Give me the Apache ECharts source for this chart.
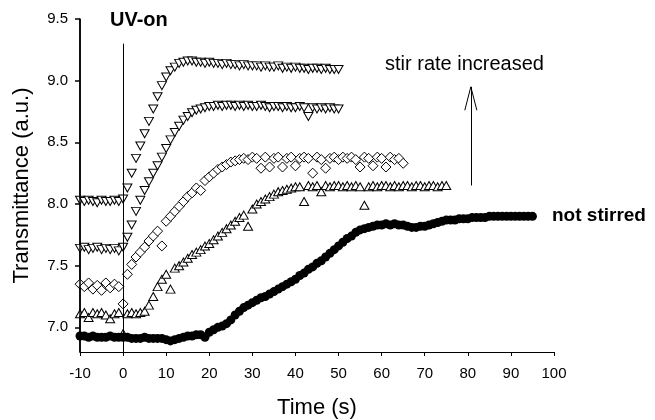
<!DOCTYPE html>
<html>
<head>
<meta charset="utf-8">
<script src="https://cdn.jsdelivr.net/npm/echarts@6/dist/echarts.min.js"></script>
<style>
  html, body { margin: 0; padding: 0; background: #fff; }
  #transmittanceChart { width: 655px; height: 420px; }
</style>
</head>
<body>
<div id="transmittanceChart"></div>
<script>
// 采样时间 (s)
var timeS = [-10, -9, -8, -7, -6, -5, -4, -3, -2, -1,
  0, 1, 2, 3, 4, 5, 6, 7, 8, 9, 10, 11, 12, 13, 14, 15, 16, 17, 18, 19,
  20, 21, 22, 23, 24, 25, 26, 27, 28, 29, 30, 31, 32, 33, 34, 35, 36, 37, 38, 39,
  40, 41, 42, 43, 44, 45, 46, 47, 48, 49, 50, 51, 52, 53, 54, 55, 56, 57, 58, 59,
  60, 61, 62, 63, 64, 65, 66, 67, 68, 69, 70, 71, 72, 73, 74, 75, 76, 77, 78, 79,
  80, 81, 82, 83, 84, 85, 86, 87, 88, 89, 90, 91, 92, 93, 94, 95];

// highest stir rate (inverted triangles)
var stirTop = [8.03, 8.02, 8.03, 8.02, 8.01, 8.03, 8.02, 8.02, 8.03, 8.02,
  8.04, 8.13, 8.25, 8.37, 8.47, 8.57, 8.67, 8.77, 8.87, 8.96,
  9.03, 9.08, 9.11, 9.14, 9.15, 9.16, 9.16, 9.15, 9.15, 9.14,
  9.15, 9.14, 9.14, 9.13, 9.14, 9.13, 9.13, 9.12, 9.13, 9.12,
  9.12, 9.12, 9.11, 9.12, 9.11, 9.11, 9.12, 9.10, 9.11, 9.10,
  9.11, 9.10, 9.10, 9.09, 9.10, 9.10, 9.09, 9.10, 9.09, 9.09, 9.09];

// second stir rate (inverted triangles)
var stirHigh = [7.64, 7.65, 7.63, 7.64, 7.65, 7.63, 7.64, 7.63, 7.64, 7.62,
  7.65, 7.73, 7.83, 7.94, 8.03, 8.11, 8.18, 8.25, 8.31, 8.38,
  8.45, 8.52, 8.58, 8.63, 8.68, 8.71, 8.74, 8.76, 8.77, 8.78,
  8.79, 8.79, 8.80, 8.79, 8.80, 8.80, 8.79, 8.80, 8.79, 8.80,
  8.79, 8.79, 8.80, 8.79, 8.78, 8.79, 8.79, 8.78, 8.79, 8.78,
  8.78, 8.79, 8.78, 8.71, 8.78, 8.77, 8.78, 8.77, 8.78, 8.77, 8.77];

// diamonds
var stirMid = [7.35, 7.33, 7.36, 7.31, 7.34, 7.30, 7.36, 7.32, 7.35, 7.33,
  7.19, 7.43, 7.51, 7.57, 7.61, 7.65, 7.70, 7.74, 7.78, 7.66,
  7.86, 7.90, 7.94, 7.98, 8.02, 8.06, 8.09, 8.13, 8.11, 8.19,
  8.22, 8.25, 8.28, 8.30, 8.32, 8.34, 8.35, 8.36, 8.37, 8.36,
  8.38, 8.37, 8.29, 8.38, 8.30, 8.37, 8.38, 8.30, 8.37, 8.38,
  8.31, 8.37, 8.38, 8.37, 8.25, 8.38, 8.36, 8.29, 8.37, 8.38,
  8.36, 8.38, 8.37, 8.38, 8.36, 8.30, 8.38, 8.37, 8.31, 8.38,
  8.37, 8.30, 8.38, 8.36, 8.37, 8.33];

// triangles
var stirLow = [7.11, 7.12, 7.08, 7.12, 7.11, 7.12, 7.10, 7.07, 7.11, 7.12,
  6.95, 7.11, 7.12, 7.11, 7.12, 7.13, 7.18, 7.25, 7.33, 7.39,
  7.43, 7.31, 7.48, 7.50, 7.53, 7.56, 7.59, 7.61, 7.63, 7.66,
  7.68, 7.71, 7.74, 7.77, 7.80, 7.83, 7.86, 7.89, 7.91, 7.82,
  7.96, 8.00, 8.02, 8.04, 8.06, 8.08, 8.10, 8.11, 8.12, 8.13,
  8.14, 8.14, 8.02, 8.15, 8.14, 8.15, 8.10, 8.15, 8.14, 8.15,
  8.15, 8.14, 8.15, 8.14, 8.15, 8.14, 7.99, 8.14, 8.15, 8.14,
  8.15, 8.15, 8.14, 8.15, 8.14, 8.15, 8.15, 8.14, 8.15, 8.15,
  8.14, 8.15, 8.15, 8.14, 8.15, 8.15];

// not stirred (filled circles)
var notStirred = [6.93, 6.93, 6.92, 6.93, 6.92, 6.92, 6.92, 6.93, 6.92, 6.92,
  6.92, 6.92, 6.91, 6.91, 6.91, 6.92, 6.91, 6.91, 6.91, 6.91,
  6.90, 6.89, 6.90, 6.91, 6.92, 6.93, 6.93, 6.94, 6.94, 6.92,
  6.96, 6.98, 7.00, 7.01, 7.03, 7.06, 7.10, 7.13, 7.16, 7.18,
  7.20, 7.22, 7.24, 7.25, 7.27, 7.29, 7.31, 7.33, 7.35, 7.37,
  7.39, 7.42, 7.44, 7.47, 7.49, 7.52, 7.54, 7.57, 7.60, 7.63,
  7.66, 7.69, 7.72, 7.74, 7.77, 7.79, 7.80, 7.81, 7.82, 7.83,
  7.83, 7.84, 7.83, 7.84, 7.83, 7.83, 7.82, 7.81, 7.81, 7.82,
  7.82, 7.83, 7.84, 7.85, 7.86, 7.87, 7.87, 7.87, 7.88, 7.88,
  7.88, 7.89, 7.89, 7.89, 7.89, 7.90, 7.90, 7.90, 7.90, 7.90,
  7.90, 7.90, 7.90, 7.90, 7.90, 7.90];

var yTicks = [7.0, 7.5, 8.0, 8.5, 9.0, 9.5];

function pairs(values) {
  return values.map(function (v, i) { return [timeS[i], v]; });
}

var FONT = "Liberation Sans, Arial, sans-serif";

function openSeries(name, values, symbol, rotate, size) {
  return {
    name: name,
    type: "scatter",
    data: pairs(values),
    symbol: symbol,
    symbolRotate: rotate,
    symbolSize: size,
    itemStyle: { color: "#fff", borderColor: "#000", borderWidth: 1, opacity: 1 },
    emphasis: { disabled: true }
  };
}

var myChart = echarts.init(document.getElementById("transmittanceChart"));
var option = {
  animation: false,
  grid: { left: 80, right: 101, top: 19, bottom: 68, outerBoundsMode: "none" },
  xAxis: {
    type: "value",
    min: -10,
    max: 100,
    interval: 10,
    name: "Time (s)",
    nameLocation: "middle",
    nameGap: 45,
    nameTextStyle: { fontFamily: FONT, fontSize: 22, color: "#000" },
    axisLine: { show: true, onZero: false, lineStyle: { color: "#000", width: 1 } },
    axisTick: { show: true, length: 4, lineStyle: { color: "#000" } },
    axisLabel: { fontFamily: FONT, fontSize: 15, color: "#000", margin: 14 },
    splitLine: { show: false }
  },
  yAxis: {
    type: "value",
    position: "left",
    min: 6.8,
    max: 9.5,
    name: "Transmittance (a.u.)",
    nameLocation: "middle",
    nameGap: 47,
    nameTextStyle: { fontFamily: FONT, fontSize: 22, color: "#000" },
    axisLine: { show: true, onZero: false, lineStyle: { color: "#000", width: 1.5 } },
    axisTick: { show: true, length: 5, customValues: yTicks, lineStyle: { color: "#000", width: 1.5 } },
    axisLabel: {
      fontFamily: FONT, fontSize: 15, color: "#000", margin: 12,
      customValues: yTicks,
      formatter: function (v) { return Number(v).toFixed(1); }
    },
    splitLine: { show: false }
  },
  series: [
    openSeries("stirTop", stirTop, "triangle", 180, [9, 8]),
    openSeries("stirHigh", stirHigh, "triangle", 180, [9, 8]),
    openSeries("stirMid", stirMid, "diamond", 0, [10, 10]),
    openSeries("stirLow", stirLow, "triangle", 0, [9, 8]),
    {
      name: "notStirred",
      type: "scatter",
      data: pairs(notStirred),
      symbol: "circle",
      symbolSize: 9,
      itemStyle: { color: "#000", opacity: 1 },
      emphasis: { disabled: true },
      markLine: {
        silent: true,
        symbol: ["none", "none"],
        label: { show: false },
        lineStyle: { color: "#000", width: 1, type: "solid", opacity: 1 },
        data: [
          // UV-on line
          [{ coord: [0, 6.8] }, { coord: [0, 9.3] }],
          // arrow shaft + head
          [{ coord: [80.7, 8.15] }, { coord: [80.7, 8.95] }],
          [{ coord: [80.7, 8.95] }, { coord: [79.3, 8.76] }],
          [{ coord: [80.7, 8.95] }, { coord: [82.1, 8.76] }]
        ]
      }
    }
  ],
  graphic: {
    elements: [
      {
        type: "text", left: 110, top: 10,
        style: { text: "UV-on", font: "bold 20px " + FONT, fill: "#000" }
      },
      {
        type: "text", left: 385, top: 54,
        style: { text: "stir rate increased", font: "20px " + FONT, fill: "#000" }
      },
      {
        type: "text", left: 552, top: 206,
        style: { text: "not stirred", font: "bold 19px " + FONT, fill: "#000" }
      }
    ]
  }
};
myChart.setOption(option);

// left axis line, placed through the axis scales
var axisX = myChart.convertToPixel({ xAxisIndex: 0 }, -10);
var yTop = myChart.convertToPixel({ yAxisIndex: 0 }, 9.5);
var yBottom = myChart.convertToPixel({ yAxisIndex: 0 }, 6.8);
myChart.setOption({
  graphic: {
    elements: [{
      id: "leftAxis", type: "line", z: 100, silent: true,
      shape: { x1: axisX, y1: yTop, x2: axisX, y2: yBottom },
      style: { stroke: "#000", lineWidth: 1.5 }
    }]
  }
});

window.onresize = function () {
  myChart.resize();
};
</script>
</body>
</html>
